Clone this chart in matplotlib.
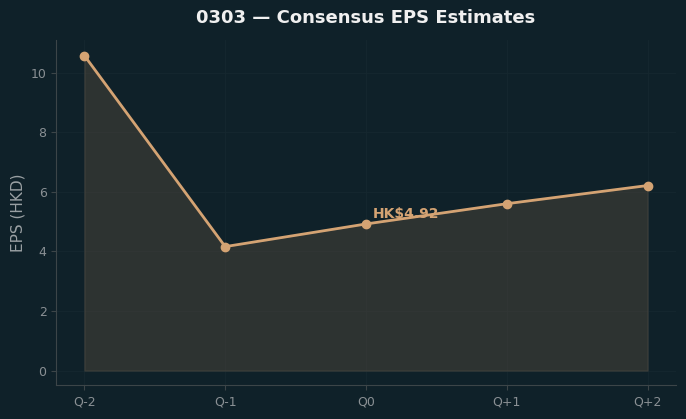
import matplotlib
matplotlib.use("Agg")
import matplotlib.pyplot as plt

# dados
periodos = ["Q-2", "Q-1", "Q0", "Q+1", "Q+2"]
eps = [10.57, 4.16, 4.92, 5.60, 6.21]
rotulo_atual = "HK$4.92"

BG = "#0f2129"
LINHA = "#d4a373"

fig, ax = plt.subplots(figsize=(6.86, 4.19), dpi=100)
fig.patch.set_facecolor(BG)
ax.set_facecolor(BG)

x = range(len(periodos))
ax.fill_between(x, eps, 0, color="#4c453a", alpha=0.5, edgecolor="#4e4a42", linewidth=1)
ax.plot(x, eps, color=LINHA, linewidth=2, marker="o", markersize=6)

ax.annotate(rotulo_atual, (2, eps[2]), xytext=(5, 4), textcoords="offset points",
            color=LINHA, fontsize=10, fontweight="bold")

ax.set_xticks(list(x))
ax.set_xticklabels(periodos)
ax.set_xlim(-0.2, 4.2)
ax.set_ylim(-0.5, 11.1)
ax.set_ylabel("EPS (HKD)", color="#9aa0a3", fontsize=11)
ax.set_title("0303 — Consensus EPS Estimates", color="#f0f0f0", fontsize=13,
             fontweight="bold", pad=12)

ax.grid(True, color="#16282f", linewidth=0.6)
ax.set_axisbelow(True)
for lado in ["top", "right"]:
    ax.spines[lado].set_visible(False)
for lado in ["left", "bottom"]:
    ax.spines[lado].set_color("#3c4548")
ax.tick_params(colors="#3c4548", labelcolor="#8a9094", labelsize=9)

fig.subplots_adjust(left=0.082, right=0.985, bottom=0.08, top=0.905)
fig.savefig("out.png", dpi=100, facecolor=BG)
